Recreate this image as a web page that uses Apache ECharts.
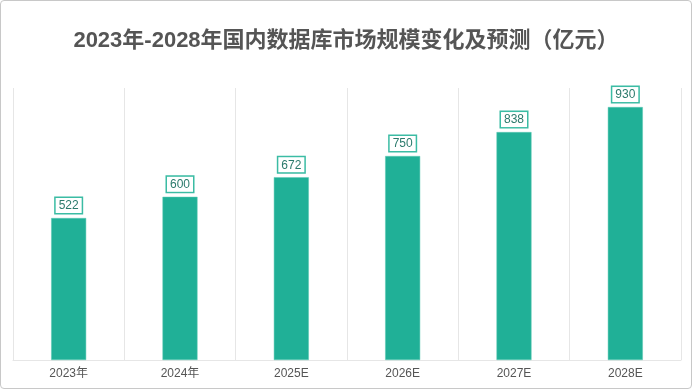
<!DOCTYPE html>
<html><head><meta charset="utf-8">
<script src="https://cdn.jsdelivr.net/npm/echarts@6/dist/echarts.min.js"></script>
<style>
html,body{margin:0;padding:0;background:#fff;}
#c{position:absolute;left:0;top:0;width:690px;height:387px;border:1px solid #c8c8c8;border-radius:4px;}
</style></head><body>
<div id="c"></div>
<script>
const categories = ['2023年','2024年','2025E','2026E','2027E','2028E'];
const values = [522, 600, 672, 750, 838, 930];
const titleText = '2023年-2028年国内数据库市场规模变化及预测（亿元）';

const chart = echarts.init(document.getElementById('c'));
chart.setOption({
  animation: false,
  title: {
    text: titleText, left: 'center', top: 24,
    textStyle: {fontFamily: '"Liberation Sans", "Noto Sans CJK SC"', fontSize: 22, fontWeight: 'bold', color: '#555'}
  },
  grid: {left: 12, right: 10, top: 87, bottom: 28},
  xAxis: {
    type: 'category', data: categories,
    axisLine: {lineStyle: {color: '#e6e6e6'}},
    axisTick: {show: false},
    axisLabel: {color: '#555', fontSize: 12, fontFamily: '"Liberation Sans", "Noto Sans CJK SC"', margin: 8},
    splitLine: {show: true, lineStyle: {color: '#e6e6e6', width: 1}}
  },
  yAxis: {
    type: 'value', min: 0, max: 1000, show: false,
    splitLine: {show: false}
  },
  series: [{
    type: 'bar', data: values, barWidth: 35,
    itemStyle: {color: '#20b097', borderColor: '#5cc8b4', borderWidth: 0.5},
    label: {
      show: true, position: 'top', distance: 5,
      color: '#2b7a6c', fontSize: 12, fontFamily: 'Liberation Sans',
      backgroundColor: '#fff', borderColor: '#3bbca4', borderWidth: 1.5,
      padding: [2, 3, 1, 3]
    }
  }]
});
</script></body></html>
